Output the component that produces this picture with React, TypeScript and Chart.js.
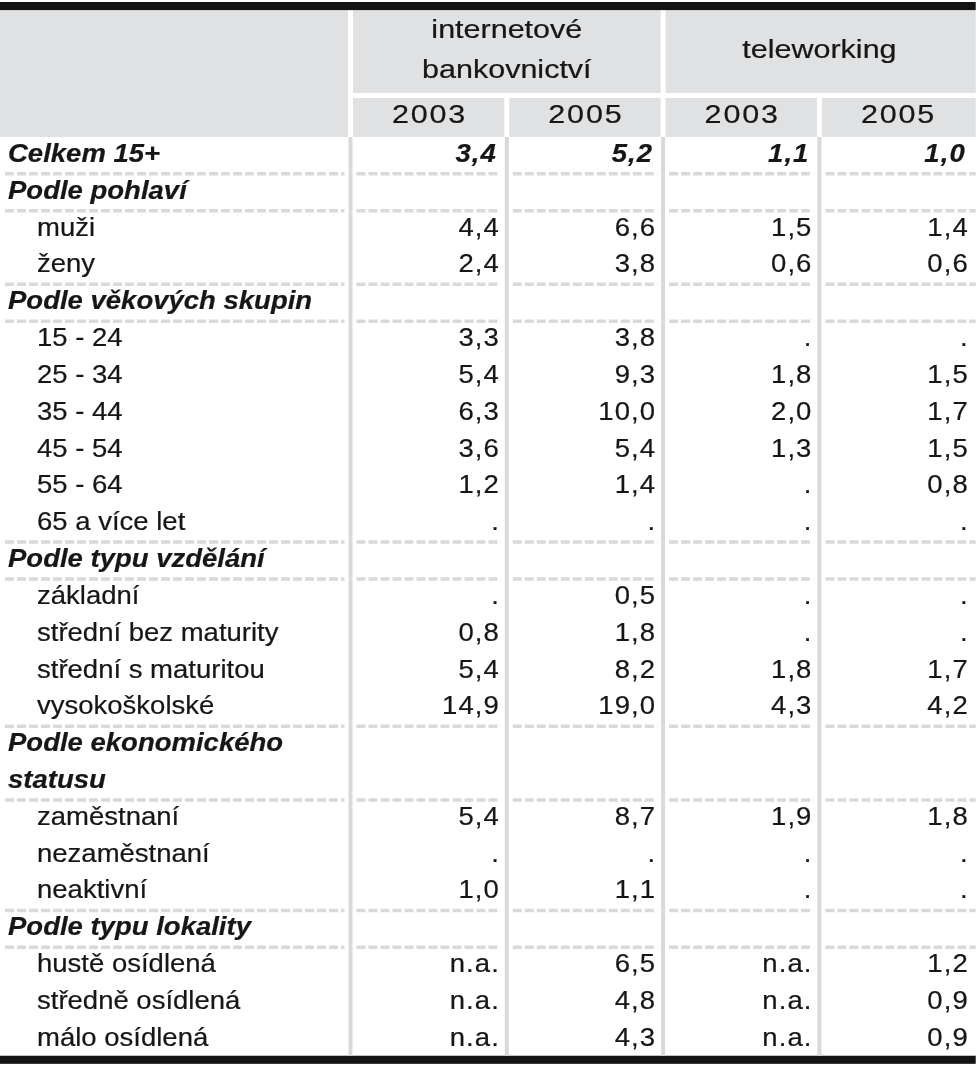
import React, { useEffect, useRef } from 'react';
import { Chart, registerables } from 'chart.js';

Chart.register(...registerables);

// ---------- data ----------
const groupLabels: string[][] = [['internetové', 'bankovnictví'], ['teleworking']];
const yearLabels = ['2003', '2005', '2003', '2005'];

const rowLabels = [
  'Celkem 15+',
  'Podle pohlaví',
  'muži',
  'ženy',
  'Podle věkových skupin',
  '15 - 24',
  '25 - 34',
  '35 - 44',
  '45 - 54',
  '55 - 64',
  '65 a více let',
  'Podle typu vzdělání',
  'základní',
  'střední bez maturity',
  'střední s maturitou',
  'vysokoškolské',
  'Podle ekonomického',
  'statusu',
  'zaměstnaní',
  'nezaměstnaní',
  'neaktivní',
  'Podle typu lokality',
  'hustě osídlená',
  'středně osídlená',
  'málo osídlená',
];

const rowKinds = [
  'total', 'section', 'item', 'item', 'section',
  'item', 'item', 'item', 'item', 'item', 'item',
  'section', 'item', 'item', 'item', 'item',
  'section', 'sectionCont', 'item', 'item', 'item',
  'section', 'item', 'item', 'item',
];

type Cell = number | string;

const bank2003: Cell[] = [3.4, '', 4.4, 2.4, '', 3.3, 5.4, 6.3, 3.6, 1.2, '.', '', '.', 0.8, 5.4, 14.9, '', '', 5.4, '.', 1.0, '', 'n.a.', 'n.a.', 'n.a.'];
const bank2005: Cell[] = [5.2, '', 6.6, 3.8, '', 3.8, 9.3, 10.0, 5.4, 1.4, '.', '', 0.5, 1.8, 8.2, 19.0, '', '', 8.7, '.', 1.1, '', 6.5, 4.8, 4.3];
const tele2003: Cell[] = [1.1, '', 1.5, 0.6, '', '.', 1.8, 2.0, 1.3, '.', '.', '', '.', '.', 1.8, 4.3, '', '', 1.9, '.', '.', '', 'n.a.', 'n.a.', 'n.a.'];
const tele2005: Cell[] = [1.0, '', 1.4, 0.6, '', '.', 1.5, 1.7, 1.5, 0.8, '.', '', '.', '.', 1.7, 4.2, '', '', 1.8, '.', '.', '', 1.2, 0.9, 0.9];

const seriesValues: Cell[][] = [bank2003, bank2005, tele2003, tele2005];

// ---------- layout / style ----------
const X_MIN = -2.2425;
const X_MAX = 4.021;
const Y_MIN = -4.2194;
const Y_MAX = 24.7246;

const FONT_PX = 25;
const SX_BODY = 1.1;
const SX_HEAD = 1.22;
const FAMILY = '"Liberation Sans", Arial, Helvetica, sans-serif';
const TEXT = '#161616';
const HEAD_BG = '#e0e1e3';
const RULE = '#d9d9d9';

function fmt(v: Cell): string {
  if (typeof v === 'number') return v.toFixed(1).replace('.', ',');
  return v;
}

function drawText(
  ctx: CanvasRenderingContext2D,
  s: string,
  x: number,
  y: number,
  align: CanvasTextAlign,
  font: string,
  sx: number,
  spacing = 0,
) {
  ctx.save();
  ctx.translate(x, y);
  ctx.scale(sx, 1);
  ctx.font = font;
  (ctx as any).letterSpacing = `${spacing}px`;
  ctx.textAlign = align;
  ctx.textBaseline = 'alphabetic';
  ctx.fillStyle = TEXT;
  // compensate trailing letter spacing for right / center alignment
  const shift = align === 'right' ? spacing : align === 'center' ? spacing / 2 : 0;
  ctx.fillText(s, shift, 0);
  ctx.strokeStyle = TEXT;
  ctx.lineWidth = 0.2;
  ctx.strokeText(s, shift, 0);
  ctx.restore();
}

const tablePlugin = {
  id: 'tablePlugin',
  beforeDatasetsDraw(chart: any) {
    const { ctx, scales } = chart;
    const x = scales.x;
    const y = scales.y;
    const px = (v: number) => x.getPixelForValue(v);
    const py = (v: number) => y.getPixelForValue(v);
    const rowH = py(1) - py(0);
    const top0 = py(-0.5);
    const bottom = py(rowLabels.length - 0.5) - 2;
    const right = px(4);
    const yearTop = top0 - 1.06 * rowH;
    const groupBottom = yearTop - 0.135 * rowH;
    const groupTop = groupBottom - 2.25 * rowH;
    const barTop = groupTop - 0.22 * rowH;
    const gap = 2.5;

    ctx.save();
    ctx.fillStyle = '#ffffff';
    ctx.fillRect(0, 0, chart.width, chart.height);

    // header backgrounds
    ctx.fillStyle = HEAD_BG;
    ctx.fillRect(0, groupTop, px(0) - gap, top0 - groupTop);
    groupLabels.forEach((_, g) => {
      const x0 = px(g * 2) + gap;
      const x1 = g === groupLabels.length - 1 ? right : px(g * 2 + 2) - gap;
      ctx.fillRect(x0, groupTop, x1 - x0, groupBottom - groupTop);
    });
    yearLabels.forEach((_, c) => {
      const x0 = px(c) + gap;
      const x1 = c === yearLabels.length - 1 ? right : px(c + 1) - gap;
      ctx.fillRect(x0, yearTop, x1 - x0, top0 - yearTop);
    });

    // thick black rules
    ctx.fillStyle = '#141414';
    ctx.fillRect(0, barTop, right, groupTop - barTop);
    ctx.fillRect(0, bottom, right, 0.22 * rowH);

    // dashed separators around section rows
    ctx.strokeStyle = RULE;
    ctx.lineWidth = 3.5;
    ctx.setLineDash([9, 3]);
    for (let r = 0; r < rowKinds.length - 1; r++) {
      const a = rowKinds[r];
      const b = rowKinds[r + 1];
      if (a === 'item' && b === 'item') continue;
      if (b === 'sectionCont') continue;
      const yy = py(r + 0.5);
      const segs: [number, number][] = [[5, px(0) - 6]];
      for (let c = 0; c < 4; c++) segs.push([px(c) + 6, c === 3 ? right : px(c + 1) - 6]);
      segs.forEach(([s, e]) => {
        ctx.beginPath();
        ctx.moveTo(s, yy);
        ctx.lineTo(e, yy);
        ctx.stroke();
      });
    }
    ctx.setLineDash([]);

    // vertical column rules in body
    ctx.fillStyle = RULE;
    for (let c = 0; c < 4; c++) {
      ctx.fillRect(px(c) - 2, top0, 4, bottom - top0);
    }

    // header text
    const headFont = `${FONT_PX}px ${FAMILY}`;
    const groupMid = (groupTop + groupBottom) / 2;
    groupLabels.forEach((lines, g) => {
      const cx = (px(g * 2) + px(g * 2 + 2)) / 2;
      if (lines.length === 2) {
        drawText(ctx, lines[0], cx, groupMid - 14, 'center', headFont, SX_HEAD);
        drawText(ctx, lines[1], cx, groupMid + 26, 'center', headFont, SX_HEAD);
      } else {
        drawText(ctx, lines[0], cx, groupMid + 6, 'center', headFont, SX_HEAD);
      }
    });
    yearLabels.forEach((lab, c) => {
      const cx = (px(c) + px(c + 1)) / 2;
      drawText(ctx, lab, cx, yearTop + 25, 'center', headFont, SX_HEAD, 1.5);
    });

    // row labels
    rowLabels.forEach((lab, r) => {
      const kind = rowKinds[r];
      const bold = kind !== 'item';
      const font = bold ? `italic bold ${FONT_PX}px ${FAMILY}` : `${FONT_PX}px ${FAMILY}`;
      const xx = bold ? 8 : 37;
      drawText(ctx, lab, xx, py(r) + 6.5, 'left', font, SX_BODY);
    });
    ctx.restore();
  },
  afterDatasetsDraw(chart: any) {
    const { ctx } = chart;
    seriesValues.forEach((vals, c) => {
      const meta = chart.getDatasetMeta(c);
      meta.data.forEach((el: any, r: number) => {
        const s = fmt(vals[r]);
        if (!s) return;
        const bold = rowKinds[r] === 'total';
        const font = bold ? `italic bold ${FONT_PX}px ${FAMILY}` : `${FONT_PX}px ${FAMILY}`;
        drawText(ctx, s, el.x - (bold ? 11 : 8), el.y + 6.5, 'right', font, SX_BODY, 1);
      });
    });
  },
};

export default function App() {
  const ref = useRef<HTMLCanvasElement>(null);
  useEffect(() => {
    if (!ref.current) return;
    const datasets = seriesValues.map((vals, c) => ({
      label: yearLabels[c],
      data: vals.map((_, r) => ({ x: c + 1, y: r })),
      pointRadius: 0,
      showLine: false,
    }));
    const chart = new Chart(ref.current, {
      type: 'scatter',
      data: { datasets },
      options: {
        animation: false,
        responsive: false,
        devicePixelRatio: 1,
        events: [],
        layout: { padding: 0 },
        plugins: { legend: { display: false }, tooltip: { enabled: false } },
        scales: {
          x: { type: 'linear', min: X_MIN, max: X_MAX, display: false },
          y: { type: 'linear', min: Y_MIN, max: Y_MAX, reverse: true, display: false },
        },
      },
      plugins: [tablePlugin],
    } as any);
    return () => chart.destroy();
  }, []);
  return (
    <div style={{ position: 'absolute', left: 0, top: 0, width: 979, height: 1066, background: '#fff' }}>
      <canvas ref={ref} width={979} height={1066} style={{ display: 'block' }} />
    </div>
  );
}
